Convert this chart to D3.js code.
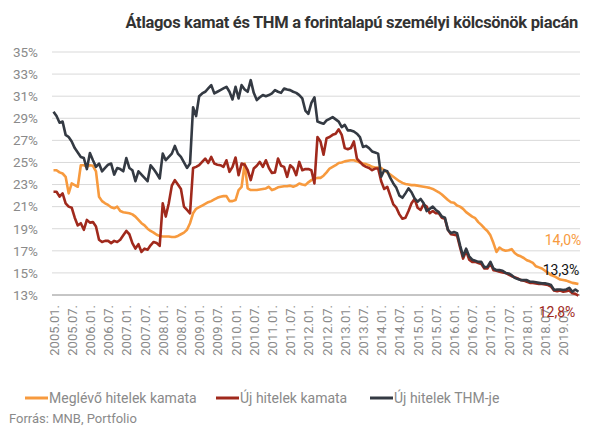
<!DOCTYPE html>
<html><head><meta charset="utf-8">
<script src="https://cdn.jsdelivr.net/npm/d3@7"></script>
<style>
body{margin:0;background:#fff;}
svg text{font-family:Roboto,"Noto Sans",sans-serif;}
</style></head>
<body><svg id="c" width="607" height="430"></svg>
<script>
const title = "Átlagos kamat és THM a forintalapú személyi kölcsönök piacán";
const source = "Forrás: MNB, Portfolio";
const seriesNames = ["Meglévő hitelek kamata", "Új hitelek kamata", "Új hitelek THM-je"];
const seriesColors = ["#F79A3E", "#A0291C", "#343A43"];
const yTicks = [13,15,17,19,21,23,25,27,29,31,33,35];

// months 2005.01. – 2019.06.
const months = [];
for (let yr = 2005; yr <= 2019; yr++) {
  for (let m = 1; m <= 12; m++) {
    if (yr === 2019 && m > 6) break;
    months.push(yr + "." + String(m).padStart(2, "0") + ".");
  }
}
const xTickLabels = months.filter((d, i) => i % 6 === 0);

const existingRate = [
24.3,24.3,24.1,24.0,23.7,22.2,23.1,22.95,22.8,24.75,24.75,24.6,24.75,24.7,24.2,21.9,21.5,21.3,21.15,20.95,
20.85,21.0,20.6,20.5,20.45,20.4,20.3,20.1,19.8,19.5,19.3,19.0,18.8,18.65,18.45,18.35,18.3,18.3,18.3,18.25,
18.25,18.35,18.5,18.65,18.9,19.5,20.4,20.8,20.95,21.1,21.25,21.4,21.5,21.65,21.8,21.9,21.95,21.95,21.5,21.5,
21.6,22.5,22.8,24.9,22.65,22.5,22.5,22.5,22.55,22.6,22.65,22.8,22.5,22.6,22.75,22.8,22.85,22.85,22.9,22.8,
22.9,23.1,23.0,22.95,23.2,23.4,23.55,23.6,23.6,23.8,24.1,24.45,24.6,24.75,24.95,25.0,25.1,25.15,25.2,25.2,
25.1,25.0,24.9,24.85,24.75,24.6,24.55,24.55,24.5,24.3,24.1,23.9,23.7,23.5,23.3,23.15,23.05,23.0,22.95,22.95,
22.9,22.85,22.8,22.75,22.7,22.6,22.45,22.3,22.1,21.85,21.6,21.4,21.35,21.1,21.0,20.8,20.5,20.3,20.1,19.95,
19.6,19.35,19.05,18.8,18.4,17.7,16.9,17.3,17.1,17.0,17.05,17.15,16.8,16.6,16.5,16.35,16.15,16.05,15.9,15.6,
15.5,15.4,15.2,15.0,14.8,14.7,14.55,14.4,14.35,14.3,14.2,14.1,14.05,14.0];

const newRate = [
22.35,22.35,21.9,22.2,21.3,21.0,20.9,20.0,19.3,19.5,18.9,19.8,19.55,19.6,19.2,18.0,17.8,17.9,17.9,17.7,
17.9,17.8,18.0,18.4,18.8,18.5,17.7,17.2,17.6,16.9,17.2,17.1,17.5,17.8,17.7,17.45,21.3,20.1,21.3,22.9,
23.4,23.0,22.6,21.0,20.7,20.4,24.5,24.6,24.75,25.05,25.35,24.95,25.5,24.9,24.8,24.75,24.6,25.2,24.15,24.6,
25.45,23.85,24.9,24.8,24.3,23.4,24.45,24.7,25.05,24.6,25.2,24.5,24.05,24.1,25.35,24.7,24.6,23.7,24.75,24.5,
23.85,25.05,24.3,24.4,24.4,24.3,23.1,27.3,26.9,25.7,27.2,27.3,27.5,27.6,28.0,27.5,26.3,26.2,26.3,26.9,
25.35,25.05,24.75,24.6,24.5,24.3,24.45,24.45,23.3,22.6,22.8,22.0,21.2,20.9,20.3,19.9,20.0,20.6,21.3,21.7,
20.9,20.7,21.2,21.0,20.4,20.6,20.4,20.4,20.0,19.9,18.9,18.5,18.45,18.4,17.3,16.3,17.0,16.2,16.0,16.0,
15.9,15.8,15.4,15.4,15.85,15.25,15.2,15.1,15.05,15.0,14.85,14.7,14.6,14.5,14.35,14.3,14.2,14.1,14.1,14.05,
14.0,14.0,13.95,13.9,13.75,13.4,13.35,13.4,13.3,13.35,13.4,13.15,13.1,12.95];

const newAPR = [
29.6,29.2,28.6,28.7,27.5,27.3,26.9,26.3,25.9,25.5,25.4,24.4,25.85,25.2,24.6,24.9,24.2,24.5,24.8,24.9,
23.9,24.5,24.4,24.2,25.4,24.5,24.3,23.3,24.2,23.9,23.6,23.3,24.75,24.4,24.0,23.55,25.8,25.2,25.5,25.8,
26.5,25.8,25.5,25.0,24.5,24.9,30.0,29.2,31.0,31.25,31.4,31.7,32.0,31.25,31.4,31.55,31.7,31.85,31.4,30.7,
31.85,30.8,32.0,31.6,31.4,32.45,31.3,30.65,30.9,31.1,31.0,31.1,31.25,31.55,31.4,31.3,31.7,31.6,31.55,31.4,
31.3,31.1,30.8,29.7,29.4,30.4,30.9,28.7,28.6,28.5,28.8,28.95,29.1,28.9,28.7,28.2,28.4,27.9,27.9,27.8,
27.6,27.3,26.4,26.5,26.3,26.0,25.9,25.8,23.7,24.3,24.2,23.6,23.1,22.7,22.0,21.8,22.2,22.65,22.3,21.75,
21.45,21.7,21.3,20.6,20.8,21.0,20.7,20.5,20.1,20.0,18.9,18.6,18.7,18.6,17.5,16.5,17.2,16.5,16.2,16.1,
16.0,16.0,15.5,15.55,16.0,15.4,15.25,15.25,15.2,15.0,14.95,14.8,14.55,14.45,14.35,14.35,14.35,14.2,14.2,14.15,
14.1,14.05,14.05,14.0,13.9,13.45,13.5,13.5,13.45,13.5,13.65,13.3,13.5,13.3];

const endLabels = ["14,0%", "12,8%", "13,3%"];

const series = [existingRate, newRate, newAPR];

const svg = d3.select("#c");
const x = d3.scalePoint().domain(months).range([53.5, 578.4]);
const y = d3.scaleLinear().domain([13, 35]).range([295, 52]);

// gridlines
svg.append("g").selectAll("line").data(yTicks.slice(1)).join("line")
  .attr("x1", 52).attr("x2", 580)
  .attr("y1", d => y(d)).attr("y2", d => y(d))
  .attr("stroke", "#d9d9d9").attr("stroke-width", 1);

// y axis
const ya = svg.append("g").attr("transform", "translate(40,0)")
  .call(d3.axisLeft(y).tickValues(yTicks).tickSize(0).tickPadding(2).tickFormat(d => d + "%"));
ya.select(".domain").remove();
ya.selectAll("text").attr("fill", "#8a8a8a").style("font-size", "13.5px");

// baseline
svg.append("line").attr("x1", 52).attr("x2", 580).attr("y1", y(13)).attr("y2", y(13))
  .attr("stroke", "#8c8c8c").attr("stroke-width", 1);

// x axis
const xa = svg.append("g").attr("transform", `translate(0,${y(13)})`)
  .call(d3.axisBottom(x).tickValues(xTickLabels).tickSize(0).tickPadding(0));
xa.select(".domain").remove();
xa.selectAll("text")
  .attr("fill", "#8a8a8a").style("font-size", "13px")
  .attr("text-anchor", "end")
  .attr("transform", "rotate(-90)")
  .attr("x", -10).attr("y", 0).attr("dy", "0.35em");

// lines
const line = d3.line().x((d, i) => x(months[i])).y(d => y(d));
const order = [0, 1, 2];
svg.append("g").selectAll("path").data(order).join("path")
  .attr("d", k => line(series[k]))
  .attr("fill", "none").attr("stroke", k => seriesColors[k])
  .attr("stroke-width", 2.6).attr("stroke-linejoin", "round");

// end labels
const labelPos = [[563, 240], [557, 312], [561, 270]];
const labelColors = ["#F79A3E", "#A0291C", "#111"];
endLabels.forEach((t, k) => {
  svg.append("text").attr("x", labelPos[k][0]).attr("y", labelPos[k][1])
    .attr("dy", "0.35em").attr("text-anchor", "middle")
    .attr("fill", labelColors[k]).style("font-size", "14px").text(t);
});

// title
svg.append("text").attr("x", 578).attr("y", 28).attr("text-anchor", "end")
  .attr("fill", "#333").style("font-size", "16.5px").style("font-weight", "bold")
  .attr("letter-spacing", "-0.3").text(title);

// legend
const legX = [25, 216, 370];
seriesNames.forEach((n, k) => {
  const g = svg.append("g").attr("transform", `translate(${legX[k]},398)`);
  g.append("line").attr("x1", 0).attr("x2", 23).attr("y1", 0).attr("y2", 0)
    .attr("stroke", seriesColors[k]).attr("stroke-width", 3);
  g.append("text").attr("x", 24).attr("y", 0).attr("dy", "0.35em")
    .attr("fill", "#8a8a8a").style("font-size", "14px").text(n);
});

svg.append("text").attr("x", 9).attr("y", 418).attr("dy", "0.35em")
  .attr("fill", "#8a8a8a").style("font-size", "13px").text(source);
</script></body></html>
